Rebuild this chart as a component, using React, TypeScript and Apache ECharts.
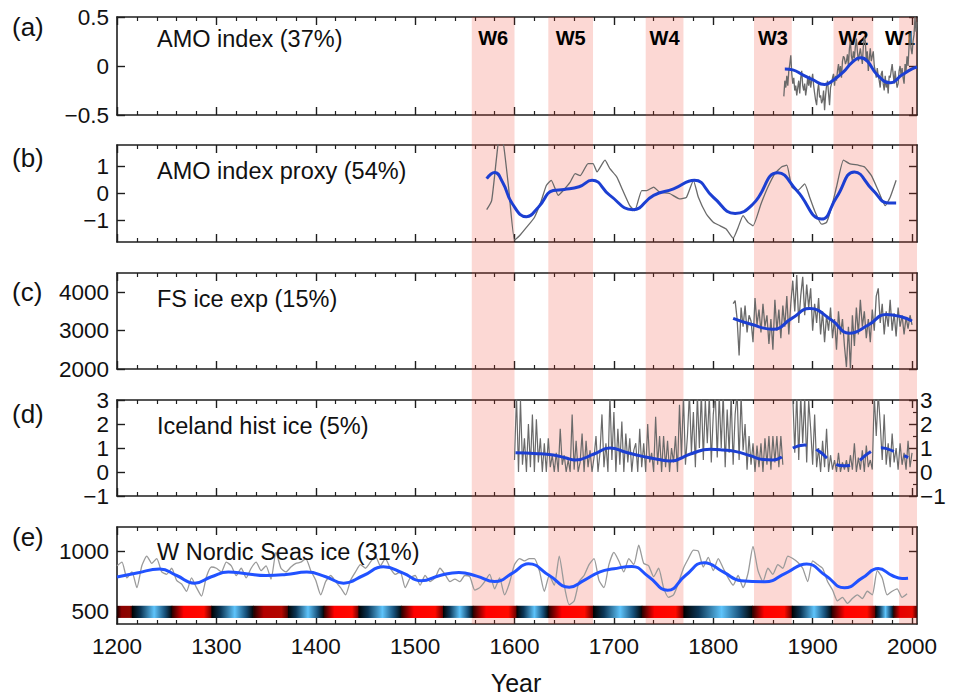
import React, { useEffect, useRef } from "react";
import * as echarts from "echarts";

const FONT = "'Liberation Sans', Arial, Helvetica, sans-serif";

// ---------- shared x axis ----------
const X_MIN = 1200;
const X_MAX = 2005;
const X_MAJOR = [1200, 1300, 1400, 1500, 1600, 1700, 1800, 1900, 2000];
const X_MINOR = [
  1220, 1240, 1260, 1280, 1320, 1340, 1360, 1380, 1420, 1440, 1460, 1480,
  1520, 1540, 1560, 1580, 1620, 1640, 1660, 1680, 1720, 1740, 1760, 1780,
  1820, 1840, 1860, 1880, 1920, 1940, 1960, 1980,
];

// ---------- warm bands ----------
const bandNames = ["W6", "W5", "W4", "W3", "W2", "W1"];
const bandStart = [1557, 1634, 1732, 1841, 1921, 1987];
const bandEnd = [1600, 1679, 1770, 1879, 1961, 2005];

// ---------- panel texts / axes ----------
const panelLabels = ["(a)", "(b)", "(c)", "(d)", "(e)"];
const panelTitles = [
  "AMO index (37%)",
  "AMO index proxy (54%)",
  "FS ice exp (15%)",
  "Iceland hist ice (5%)",
  "W Nordic Seas ice (31%)",
];
const yRanges = [
  [-0.5, 0.5],
  [-1.8, 1.8],
  [2000, 4500],
  [-1, 3],
  [400, 1200],
];
const yTicks = [
  [-0.5, 0, 0.5],
  [-1, 0, 1],
  [2000, 3000, 4000],
  [-1, 0, 1, 2, 3],
  [500, 1000],
];

// ---------- (a) AMO index ----------
const amoStart = 1871;
const amoValues = [
  -0.31, -0.15, -0.22, -0.1, -0.2, -0.05, 0.02, 0.11, -0.08, -0.18,
  -0.12, -0.25, -0.2, -0.3, -0.22, -0.15, -0.28, -0.12, -0.05, -0.2,
  -0.25, -0.18, -0.3, -0.22, -0.12, -0.2, -0.1, -0.22, -0.15, -0.08,
  -0.2, -0.28, -0.35, -0.4, -0.25, -0.18, -0.32, -0.3, -0.38, -0.35,
  -0.25, -0.45, -0.3, -0.2, -0.15, -0.28, -0.4, -0.22, -0.18, -0.12,
  -0.08, -0.2, -0.1, -0.15, -0.05, 0.02, -0.08, 0.0, -0.12, 0.05,
  0.1, 0.08, 0.02, 0.05, 0.12, 0.0, 0.18, 0.25, 0.1, 0.05,
  0.15, 0.08, 0.2, 0.28, 0.15, 0.05, 0.12, 0.18, 0.1, 0.02,
  0.2, 0.3, 0.25, 0.05, 0.15, -0.05, 0.08, 0.18, 0.05, 0.1,
  0.15, 0.0, -0.05, -0.12, -0.02, -0.1, -0.15, -0.22, -0.08, -0.05,
  -0.18, -0.25, -0.1, -0.22, -0.15, -0.28, -0.1, -0.12, -0.05, 0.02,
  -0.08, -0.18, -0.05, -0.15, -0.22, -0.18, -0.05, 0.0, -0.1, -0.02,
  -0.12, -0.18, 0.02, -0.05, 0.1, 0.0, 0.2, 0.34, 0.18, 0.12,
  0.25, 0.32, 0.5, 0.35, 0.45,
];
const amoSmoothYears = [1872, 1880, 1890, 1900, 1912, 1920, 1931, 1940, 1948, 1955, 1965, 1978, 1990, 2000, 2005];
const amoSmoothValues = [-0.03, -0.04, -0.09, -0.14, -0.19, -0.15, -0.06, 0.04, 0.085, 0.05, -0.09, -0.17, -0.09, -0.03, -0.01];

// ---------- (b) AMO index proxy ----------
const proxyYears = [
  1572, 1577, 1582, 1585, 1589, 1594, 1600, 1605, 1612, 1620,
  1627, 1632, 1637, 1644, 1649, 1656, 1661, 1666, 1674, 1679,
  1683, 1691, 1696, 1703, 1709, 1716, 1721, 1728, 1733, 1740,
  1746, 1756, 1766, 1773, 1780, 1785, 1793, 1800, 1807, 1813,
  1820, 1825, 1830, 1835, 1840, 1848, 1855, 1862, 1869, 1874,
  1879, 1885, 1892, 1897, 1902, 1909, 1914, 1919, 1924, 1931,
  1937, 1946, 1952, 1959, 1966, 1973, 1978, 1984,
];
const proxyValues = [
  -0.6, -0.26, 1.36, 2.2, 1.8, 0.24, -1.73, -1.57, -1.26, -0.89,
  -0.26, 0.3, 0.49, -0.07, 0.11, 0.42, 0.74, 0.66, 1.11, 1.11,
  0.8, 1.24, 0.92, 0.61, 0.11, -0.45, -0.64, 0.11, 0.11, 0.24,
  0.05, 0.0, -0.2, -0.14, 0.49, -0.14, -0.76, -1.07, -1.2, -1.32,
  -1.66, -1.26, -0.82, -1.07, -1.2, -0.39, 0.24, 0.74, 0.99, 1.05,
  0.24, 0.11, 0.36, -0.14, -0.64, -1.14, -1.07, -0.51, 0.24, 1.24,
  1.11, 1.05, 0.99, 0.67, 0.11, -0.45, -0.14, 0.49,
];
const proxySmoothYears = [1572, 1580, 1588, 1598, 1612, 1624, 1639, 1650, 1665, 1678, 1696, 1719, 1740, 1760, 1781, 1800, 1822, 1840, 1865, 1884, 1909, 1924, 1942, 1961, 1976, 1984];
const proxySmoothValues = [0.55, 0.78, 0.42, -0.39, -0.86, -0.51, 0.11, 0.15, 0.25, 0.49, -0.07, -0.6, -0.07, 0.17, 0.49, -0.14, -0.74, -0.39, 0.77, 0.11, -0.95, -0.14, 0.8, 0.11, -0.35, -0.35];

// ---------- (c) FS ice export ----------
const fsStart = 1820;
const fsStep = 2;
const fsValues = [
  3700, 3780, 3300, 2350, 3600, 3100, 3650, 2950, 3400, 3250,
  2700, 3850, 3150, 3550, 2950, 3700, 3100, 3400, 2650, 3300,
  2500, 3800, 3000, 3550, 2800, 3650, 3100, 3900, 2900, 3700,
  4300, 3500, 4450, 3200, 3900, 4400, 3400, 4200, 3600, 4100,
  3000, 3700, 3200, 3850, 2900, 3500, 2700, 3400, 3000, 3600,
  2800, 3300, 2500, 3500, 2900, 3300, 2600, 2050, 3100, 2000,
  3400, 2600, 3600, 2900, 3800, 3100, 3500, 2800, 3300, 2700,
  3550, 3000, 3900, 4100, 3200, 3700, 2900, 3500, 3100, 3800,
  3000, 3450, 2850, 3600, 3100, 3400, 2900, 3350, 3050, 3400,
  3150,
];
const fsSmoothYears = [1820, 1838, 1860, 1879, 1897, 1919, 1937, 1956, 1974, 1989, 2000];
const fsSmoothValues = [3317, 3164, 3036, 3317, 3574, 3274, 2933, 3146, 3420, 3360, 3249];

// ---------- (d) Iceland historical ice ----------
const iceStart = 1600;
const iceStep = 2;
const iceValues = [
  0.5, 3.2, 0, 3.0, 0.3, 1.4, 0, 2.0, 0.2, 2.4, 0, 2.2, 0.4, 1.4, 0, 1.2, 0, 1.4, 0.2, 0.7, 0,
  0.8, 0, 1.8, 0.3, 0.7, 0, 0.5, 0, 2.4, 0.1, 1.3, 0, 0.4, 1.6, 0, 1.3, 0.2, 0.9, 0, 0.6,
  1.5, 0, 0.8, 2.4, 0.2, 1.2, 0, 3.2, 0.5, 2.5, 0, 1.8, 0.3, 2.1, 0, 1.6, 0.4, 1.4, 0, 0.9,
  1.2, 0, 1.8, 0.2, 1.2, 0, 2.0, 0.4, 0.8, 0, 2.3, 0.3, 1.5, 0, 1.5, 0.2, 1.3, 0, 1.0, 0.4,
  1.5, 0, 2.8, 0.6, 3.2, 0.3, 1.5, 3.3, 0.8, 2.5, 0.2, 3.2, 1.0, 3.3, 0.5, 3.0, 1.2, 3.2, 0.4, 2.4,
  3.3, 0.6, 3.2, 1.0, 3.3, 0.2, 2.6, 0.8, 3.2, 0.3, 2.4, 3.3, 0.5, 3.2, 0.9, 2.0, 0.1, 1.5, 0.3, 1.2,
  0, 1.1, 0.2, 1.2, 0, 1.4, 0.3, 1.5, 0.1, 1.5, 0.4, 1.5, 0.2, 1.5, 0.3,
  null, null, null, null,
  3.2, 0.8, 3.3, 0.5, 3.2, 1.2, 3.1, 0.4, 3.0, 1.8, 0.3,
  2.4, 0.2, 1.0, 0, 1.3, 0.2, 1.8, 0, 0.7, 0.1, 0.5, 0, 0.8, 0, 0.4,
  0.1, 0.5, 0, 0.7, 0.1, 1.2, 0, 0.6, 0.1, 0.9, 0, 1.1, 0.2, 0.5, 0.1,
  3.2, 1.5, 3.3, 2.0, 0.5, 2.4, 0.3, 1.2,
  0.2, 1.6, 0.4, 1.0, 0.1, 1.2, 0.3, 0.8, 0.1, 1.3, 0.2, 0.8,
];
const iceSmoothYears = [1601, 1620, 1639, 1652, 1661, 1680, 1696, 1712, 1730, 1745, 1757, 1777, 1797, 1810, 1823, 1837, 1850, 1860, 1869];
const iceSmoothValues = [0.8, 0.77, 0.71, 0.58, 0.5, 0.75, 1.0, 0.82, 0.64, 0.52, 0.46, 0.75, 0.95, 0.92, 0.85, 0.68, 0.52, 0.5, 0.62];
const iceSmoothLateYears = [1880, 1892, 1907, 1917, 1931, 1944, 1956, 1968, 1984, 1996];
const iceSmoothLateValues = [1.0, 1.12, 0.85, 0.5, 0.26, 0.4, 0.78, 1.01, 0.82, 0.6];

// ---------- (e) W Nordic Seas ice ----------
const nordicStart = 1200;
const nordicStep = 5;
const nordicValues = [
  880, 910, 780, 830, 700, 880, 960, 900, 940, 830,
  810, 860, 760, 730, 670, 780, 700, 630, 790, 870,
  860, 830, 910, 880, 800, 860, 780, 860, 910, 840,
  880, 770, 990, 860, 830, 870, 900, 910, 940, 840,
  760, 640, 750, 800, 750, 700, 640, 760, 830, 890,
  860, 910, 960, 880, 940, 860, 810, 830, 700, 780,
  800, 720, 800, 750, 780, 860, 810, 750, 770, 750,
  800, 790, 680, 700, 750, 810, 690, 780, 640, 740,
  890, 940, 920, 940, 940, 840, 670, 800, 720, 960,
  720, 560, 590, 750, 800, 890, 940, 760, 700, 890,
  990, 920, 830, 940, 890, 1050, 900, 880, 790, 860,
  700, 620, 640, 740, 860, 940, 1010, 1000, 870, 950,
  840, 940, 860, 780, 720, 800, 700, 820, 1040, 840,
  750, 860, 810, 890, 860, 960, 940, 910, 860, 750,
  920, 890, 860, 750, 680, 590, 620, 570, 610, 640,
  610, 670, 640, 840, 780, 640, 670, 690, 620, 650,
];
const nordicSmoothYears = [
  1200, 1220, 1243, 1260, 1278, 1295, 1312, 1330, 1350, 1370,
  1391, 1410, 1428, 1448, 1468, 1488, 1506, 1525, 1544, 1562,
  1580, 1598, 1614, 1635, 1655, 1670, 1686, 1700, 1718, 1735,
  1754, 1772, 1791, 1810, 1828, 1852, 1873, 1894, 1913, 1932,
  1950, 1966, 1980, 1990, 1996,
];
const nordicSmoothValues = [
  787, 820, 853, 800, 737, 790, 828, 815, 800, 808,
  828, 790, 737, 800, 872, 820, 756, 800, 825, 795,
  750, 820, 897, 800, 704, 760, 830, 855, 875, 790,
  678, 800, 906, 830, 757, 748, 820, 895, 800, 698,
  780, 857, 800, 775, 777,
];

// phase colour strip of panel (e): 1 = warm (red), -1 = cold (blue)
const stripStart = [1200, 1215, 1255, 1295, 1337, 1372, 1408, 1443, 1486, 1528, 1558, 1602, 1634, 1679, 1728, 1770, 1839, 1879, 1919, 1963, 1981];
const stripEnd = [1215, 1255, 1295, 1337, 1372, 1408, 1443, 1486, 1528, 1558, 1602, 1634, 1679, 1728, 1770, 1839, 1879, 1919, 1963, 1981, 2005];
const stripPhase = [1, -1, 1, -1, 1, -1, 1, -1, 1, -1, 1, -1, 1, -1, 1, -1, 1, -1, 1, -1, 1];
const stripStrength = [0.55, 1, 1, 1, 0.7, 1, 1, 1, 1, 1, 1, 1, 1, 1, 1, 1, 1, 1, 1, 1, 0.9];

// ---------- layout (styling only) ----------
const GRID_LEFT = 117;
const GRID_RIGHT = 39;
const GRID_TOPS = [17, 145, 273, 400, 527];
const GRID_HEIGHTS = [98, 97, 96, 96, 97];
const LABEL_Y = [27, 158, 292, 414, 537];
const TITLE_Y = [39, 171, 299, 426, 552];
const STRIP_LOW = 450;
const STRIP_HIGH = 550;
const AX = "#1e1e1e";
const GRAY = "#6a6a6a";
const GRAY_E = "#9a9a9a";
const BLUE = "#1c3fd2";
const BLUE_E = "#2152ff";
const TICK_FONT = 22.5;

const seq = (start: number, step: number, vals: (number | null)[]) =>
  vals.map((v, i) => [start + i * step, v]);
const zip = (xs: number[], ys: number[]) => xs.map((x, i) => [x, ys[i]]);
const fmtY = (v: number) => (v < 0 ? "\u2212" + Math.abs(v) : String(v));
const fmtX = (v: number) => String(v);

function buildOption() {
  const grid: any[] = GRID_TOPS.map((t, i) => ({
    left: GRID_LEFT,
    right: GRID_RIGHT,
    top: t,
    height: GRID_HEIGHTS[i],
    outerBoundsMode: "none",
  }));
  grid.push({ left: GRID_LEFT, right: GRID_RIGHT, top: 17, bottom: 72, outerBoundsMode: "none" });

  const xAxis: any[] = [];
  for (let i = 0; i < 5; i++) {
    for (const pos of ["bottom", "top"]) {
      xAxis.push({
        type: "value",
        gridIndex: i,
        position: pos,
        min: X_MIN,
        max: X_MAX,
        splitLine: { show: false },
        axisLine: { show: true, onZero: false, lineStyle: { color: AX, width: 1.6 } },
        axisTick: { show: true, inside: true, length: 8, customValues: X_MAJOR, lineStyle: { color: AX, width: 1.4 } },
        minorTick: { show: false },
        axisLabel: {
          show: i === 4 && pos === "bottom",
          customValues: X_MAJOR,
          formatter: fmtX,
          fontSize: TICK_FONT,
          fontFamily: FONT,
          color: "#111",
          margin: 11,
        },
      });
      xAxis.push({
        type: "value",
        gridIndex: i,
        position: pos,
        min: X_MIN,
        max: X_MAX,
        splitLine: { show: false },
        axisLine: { show: false, onZero: false },
        axisTick: { show: true, inside: true, length: 4, customValues: X_MINOR, lineStyle: { color: AX, width: 1.2 } },
        minorTick: { show: false },
        axisLabel: { show: false },
      });
    }
  }
  xAxis.push({ type: "value", gridIndex: 5, min: X_MIN, max: X_MAX, show: false });

  const yAxis: any[] = [];
  for (let i = 0; i < 5; i++) {
    const [mn, mx] = yRanges[i];
    yAxis.push({
      type: "value",
      gridIndex: i,
      position: "left",
      min: mn,
      max: mx,
      splitLine: { show: false },
      axisLine: { show: true, onZero: false, lineStyle: { color: AX, width: 1.6 } },
      axisTick: { show: true, inside: true, length: 8, customValues: yTicks[i], lineStyle: { color: AX, width: 1.4 } },
      axisLabel: {
        show: true,
        customValues: yTicks[i],
        formatter: fmtY,
        fontSize: TICK_FONT,
        fontFamily: FONT,
        color: "#111",
        margin: 8,
      },
    });
    if (i === 3) {
      yAxis.push({
        type: "value",
        gridIndex: i,
        position: "right",
        min: mn,
        max: mx,
        interval: 1,
        splitLine: { show: false },
        axisLine: { show: true, onZero: false, lineStyle: { color: AX, width: 1.6 } },
        axisTick: { show: true, inside: true, length: 8, lineStyle: { color: AX, width: 1.4 } },
        minorTick: { show: true, splitNumber: 2, length: 4, lineStyle: { color: AX, width: 1.2 } },
        axisLabel: { show: true, formatter: fmtY, fontSize: TICK_FONT, fontFamily: FONT, color: "#111", margin: 3 },
      });
    } else {
      yAxis.push({
        type: "value",
        gridIndex: i,
        position: "right",
        min: mn,
        max: mx,
        splitLine: { show: false },
        axisLine: { show: true, onZero: false, lineStyle: { color: AX, width: 1.6 } },
        axisTick: { show: true, inside: true, length: 8, customValues: yTicks[i], lineStyle: { color: AX, width: 1.4 } },
        axisLabel: { show: false },
      });
    }
  }
  yAxis.push({ type: "value", gridIndex: 5, min: 0, max: 1, show: false });

  const line = (i: number, data: any[], color: string, width: number, extra: any = {}) => ({
    type: "line",
    xAxisIndex: i * 4,
    yAxisIndex: i * 2,
    data,
    symbol: "none",
    showSymbol: false,
    silent: true,
    connectNulls: false,
    lineStyle: { color, width, ...(extra.lineStyle || {}) },
    z: extra.z ?? 2,
    smooth: extra.smooth ?? false,
  });

  const series: any[] = [
    line(0, seq(amoStart, 1, amoValues), GRAY, 1.3),
    line(0, zip(amoSmoothYears, amoSmoothValues), BLUE, 3, { smooth: 0.5, z: 3 }),
    line(1, zip(proxyYears, proxyValues), GRAY, 1.3, { smooth: 0.15 }),
    line(1, zip(proxySmoothYears, proxySmoothValues), BLUE, 3, { smooth: 0.5, z: 3 }),
    line(2, seq(fsStart, fsStep, fsValues), GRAY, 1.3),
    line(2, zip(fsSmoothYears, fsSmoothValues), BLUE, 3, { smooth: 0.5, z: 3 }),
    line(3, seq(iceStart, iceStep, iceValues), GRAY, 1.2),
    line(3, zip(iceSmoothYears, iceSmoothValues), BLUE, 3, { smooth: 0.5, z: 3 }),
    line(3, zip(iceSmoothLateYears, iceSmoothLateValues), BLUE, 3, {
      smooth: 0.5,
      z: 3,
      lineStyle: { type: [14, 11] },
    }),
    line(4, seq(nordicStart, nordicStep, nordicValues), GRAY_E, 1.3, { smooth: 0.2 }),
    line(4, zip(nordicSmoothYears, nordicSmoothValues), BLUE_E, 3, { smooth: 0.5, z: 3 }),
    {
      type: "custom",
      xAxisIndex: 16,
      yAxisIndex: 8,
      z: 20,
      silent: true,
      data: stripStart.map((s, i) => [s, stripEnd[i], stripPhase[i], stripStrength[i]]),
      encode: { x: [0, 1] },
      renderItem: (params: any, api: any) => {
        const p0 = api.coord([api.value(0), STRIP_HIGH]);
        const p1 = api.coord([api.value(1), STRIP_LOW]);
        const phase = api.value(2);
        const s = api.value(3);
        const cs = params.coordSys;
        const rect = echarts.graphic.clipRectByRect(
          { x: p0[0], y: p0[1], width: p1[0] - p0[0] + 0.7, height: p1[1] - p0[1] },
          { x: cs.x, y: cs.y, width: cs.width, height: cs.height }
        );
        if (!rect) return null;
        const p = Math.round(255 * s);
        const stops =
          phase > 0
            ? [
                { offset: 0, color: `rgb(${Math.round(p * 0.15)},0,0)` },
                { offset: 0.3, color: `rgb(${p},0,0)` },
                { offset: 0.8, color: `rgb(${p},${Math.round(p * 0.04)},0)` },
                { offset: 1, color: `rgb(${Math.round(p * 0.35)},0,0)` },
              ]
            : [
                { offset: 0, color: "#000000" },
                { offset: 0.22, color: "#0b3656" },
                { offset: 0.55, color: "#5ec4fb" },
                { offset: 0.82, color: "#164f78" },
                { offset: 1, color: "#000000" },
              ];
        return {
          type: "rect",
          shape: rect,
          style: { fill: new echarts.graphic.LinearGradient(0, 0, 1, 0, stops) },
        };
      },
    },
    {
      type: "line",
      xAxisIndex: 20,
      yAxisIndex: 10,
      data: [],
      silent: true,
      z: 10,
      markArea: {
        silent: true,
        itemStyle: { color: "rgba(240,60,40,0.2)" },
        label: {
          show: true,
          position: "insideTop",
          distance: 11,
          fontSize: 20,
          fontWeight: "bold",
          fontFamily: FONT,
          color: "#000",
        },
        data: bandNames.map((n, i) => [
          bandEnd[i] >= X_MAX
            ? {
                name: n,
                xAxis: bandStart[i],
                label: { position: "insideTopRight", distance: 2, offset: [0, 9] },
              }
            : { name: n, xAxis: bandStart[i] },
          { xAxis: bandEnd[i] },
        ]),
      },
    },
  ];

  const graphic: any[] = [];
  panelLabels.forEach((t, i) => {
    graphic.push({
      type: "text",
      x: 12,
      y: LABEL_Y[i],
      z: 100,
      style: { text: t, fontSize: 26, fontFamily: FONT, fill: "#111", textAlign: "left", textVerticalAlign: "middle" },
    });
  });
  panelTitles.forEach((t, i) => {
    graphic.push({
      type: "text",
      x: 157,
      y: TITLE_Y[i],
      z: 100,
      style: { text: t, fontSize: 23.5, fontFamily: FONT, fill: "#111", textAlign: "left", textVerticalAlign: "middle" },
    });
  });
  graphic.push({
    type: "text",
    x: 516,
    y: 683,
    z: 100,
    style: { text: "Year", fontSize: 25, fontFamily: FONT, fill: "#111", textAlign: "center", textVerticalAlign: "middle" },
  });

  return {
    animation: false,
    backgroundColor: "#ffffff",
    grid,
    xAxis,
    yAxis,
    series,
    graphic,
  };
}

export default function App() {
  const ref = useRef<HTMLDivElement>(null);
  useEffect(() => {
    if (!ref.current) return;
    const chart = echarts.init(ref.current, null, { renderer: "svg" });
    chart.setOption(buildOption() as any);
    return () => chart.dispose();
  }, []);
  return (
    <div
      ref={ref}
      style={{ position: "fixed", left: 0, top: 0, width: 956, height: 696, background: "#fff" }}
    />
  );
}
